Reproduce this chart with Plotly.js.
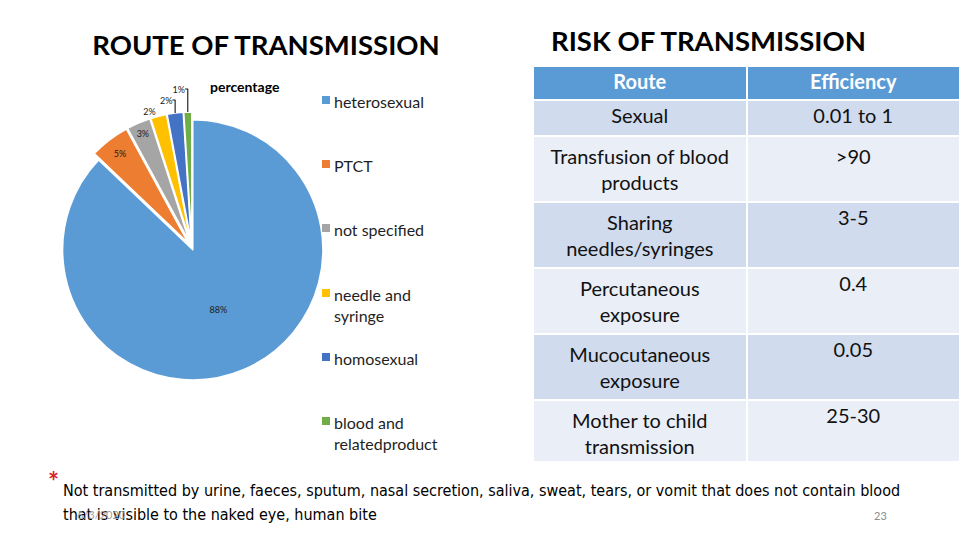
<!DOCTYPE html>
<html>
<head>
<meta charset="utf-8">
<script src="https://cdn.plot.ly/plotly-3.0.1.min.js"></script>
<style>html,body{margin:0;padding:0;background:#fff;}#chart{width:960px;height:540px;}</style>
</head>
<body>
<div id="chart"></div>
<script>
// ---- data ----
const routeLabels = ['heterosexual', 'PTCT', 'not specified', 'needle and syringe', 'homosexual', 'blood and relatedproduct'];
const routeLegendText = ['heterosexual', 'PTCT', 'not specified', 'needle and<br>syringe', 'homosexual', 'blood and<br>relatedproduct'];
const routePercent = [88, 5, 3, 2, 2, 1];
const sliceColors = ['#5b9bd5', '#ed7d31', '#a5a5a5', '#ffc000', '#4472c4', '#70ad47'];

const tableHeader = ['Route', 'Efficiency'];
const riskRoutes = ['Sexual', 'Transfusion of blood<br>products', 'Sharing<br>needles/syringes', 'Percutaneous<br>exposure', 'Mucocutaneous<br>exposure', 'Mother to child<br>transmission'];
const riskEfficiency = ['0.01 to 1', '>90', '3-5', '0.4', '0.05', '25-30'];

const FONT = 'Lato, "Open Sans", sans-serif';
const NARROW = '"Liberation Sans Narrow", "DejaVu Sans Condensed", sans-serif';
const W = 960, H = 540;
const px = x => x / W;
const py = y => 1 - y / H;

const pie = {
  type: 'pie',
  labels: routeLabels,
  values: routePercent,
  sort: false,
  direction: 'clockwise',
  rotation: 0,
  marker: {colors: sliceColors, line: {color: '#ffffff', width: 1.5}},
  pull: [0.015, 0.045, 0.045, 0.045, 0.045, 0.045],
  texttemplate: '%{value}%',
  textinfo: 'text',
  textposition: ['inside', 'inside', 'inside', 'outside', 'outside', 'outside'],
  insidetextorientation: 'horizontal',
  textfont: {size: 9, color: '#1a1a1a', family: FONT},
  outsidetextfont: {size: 9, color: '#1a1a1a', family: FONT},
  domain: {x: [px(56), px(328)], y: [py(384), py(112)]},
  showlegend: false,
  hoverinfo: 'label+value'
};

const table = {
  type: 'table',
  domain: {x: [px(533), 1], y: [py(461), py(66)]},
  columnwidth: [1, 1],
  header: {
    values: tableHeader,
    align: 'center',
    height: 34,
    fill: {color: '#5b9bd5'},
    line: {color: '#ffffff', width: 2},
    font: {family: FONT, size: 20, color: '#ffffff', weight: 'bold'}
  },
  cells: {
    values: [riskRoutes, riskEfficiency],
    align: 'center',
    height: 36,
    fill: {color: [['#d0dbee', '#e9eef7', '#d0dbee', '#e9eef7', '#d0dbee', '#e9eef7']]},
    line: {color: '#ffffff', width: 2},
    font: {family: FONT, size: 20, color: '#111111'}
  }
};

// legend built from the category list
const legendY = [100, 164, 228, 293, 357, 421];
const annotations = [];
const shapes = [];
routeLegendText.forEach((t, i) => {
  annotations.push({
    xref: 'paper', yref: 'paper', x: px(332), y: py(legendY[i] - 10),
    xanchor: 'left', yanchor: 'top', align: 'left', showarrow: false,
    text: t, font: {family: FONT, size: 16, color: '#1f1f1f'}
  });
  shapes.push({
    type: 'rect', xref: 'paper', yref: 'paper',
    x0: px(322), x1: px(330), y0: py(legendY[i] - 4), y1: py(legendY[i] + 4),
    fillcolor: sliceColors[i], line: {width: 0}
  });
});

annotations.push(
  {xref: 'paper', yref: 'paper', x: px(245), y: py(87), xanchor: 'center', yanchor: 'middle', showarrow: false,
   text: '<b>percentage</b>', font: {family: FONT, size: 14, color: '#000000'}},
  {xref: 'paper', yref: 'paper', x: px(708), y: py(40), xanchor: 'center', yanchor: 'middle', showarrow: false,
   text: '<b>RISK OF TRANSMISSION</b>', font: {family: FONT, size: 27.5, color: '#000000'}},
  {xref: 'paper', yref: 'paper', x: px(46), y: py(481), xanchor: 'left', yanchor: 'middle', showarrow: false,
   text: '<b>*</b>', font: {family: FONT, size: 26, color: '#d9242b'}},
  {xref: 'paper', yref: 'paper', x: px(61), y: py(490), xanchor: 'left', yanchor: 'middle', showarrow: false,
   text: 'Not transmitted by urine, faeces, sputum, nasal secretion, saliva, sweat, tears, or vomit that does not contain blood',
   font: {family: NARROW, size: 16, color: '#000000'}},
  {xref: 'paper', yref: 'paper', x: px(61), y: py(514), xanchor: 'left', yanchor: 'middle', showarrow: false,
   text: 'that is visible to the naked eye, human bite',
   font: {family: NARROW, size: 16, color: '#000000'}},
  {xref: 'paper', yref: 'paper', x: px(75), y: py(514), xanchor: 'left', yanchor: 'middle', showarrow: false,
   text: '6/3/2020', font: {family: FONT, size: 11, color: '#a0a0a0'}},
  {xref: 'paper', yref: 'paper', x: px(880), y: py(515), xanchor: 'center', yanchor: 'middle', showarrow: false,
   text: '23', font: {family: FONT, size: 11, color: '#8c8c8c'}}
);

const layout = {
  width: W, height: H,
  margin: {l: 0, r: 0, t: 0, b: 0},
  paper_bgcolor: '#ffffff',
  plot_bgcolor: '#ffffff',
  title: {text: '<b>ROUTE OF TRANSMISSION</b>', x: px(266), xanchor: 'center', y: py(45), yanchor: 'middle',
          font: {family: FONT, size: 27.5, color: '#000000'}},
  font: {family: FONT},
  showlegend: false,
  annotations: annotations,
  shapes: shapes
};

function centerTableLines(gd) {
  gd.querySelectorAll('text.cell-text').forEach(t => {
    const lines = t.querySelectorAll('tspan.line');
    if (lines.length < 2) return;
    const bw = t.getBBox().width;
    lines.forEach(l => {
      const x0 = parseFloat(l.getAttribute('x') || '0');
      const w = l.getComputedTextLength();
      l.setAttribute('x', x0 + (bw - w) / 2);
    });
  });
}

Plotly.newPlot('chart', [pie, table], layout, {displayModeBar: false, staticPlot: true})
  .then(gd => centerTableLines(gd));
</script>
</body>
</html>
